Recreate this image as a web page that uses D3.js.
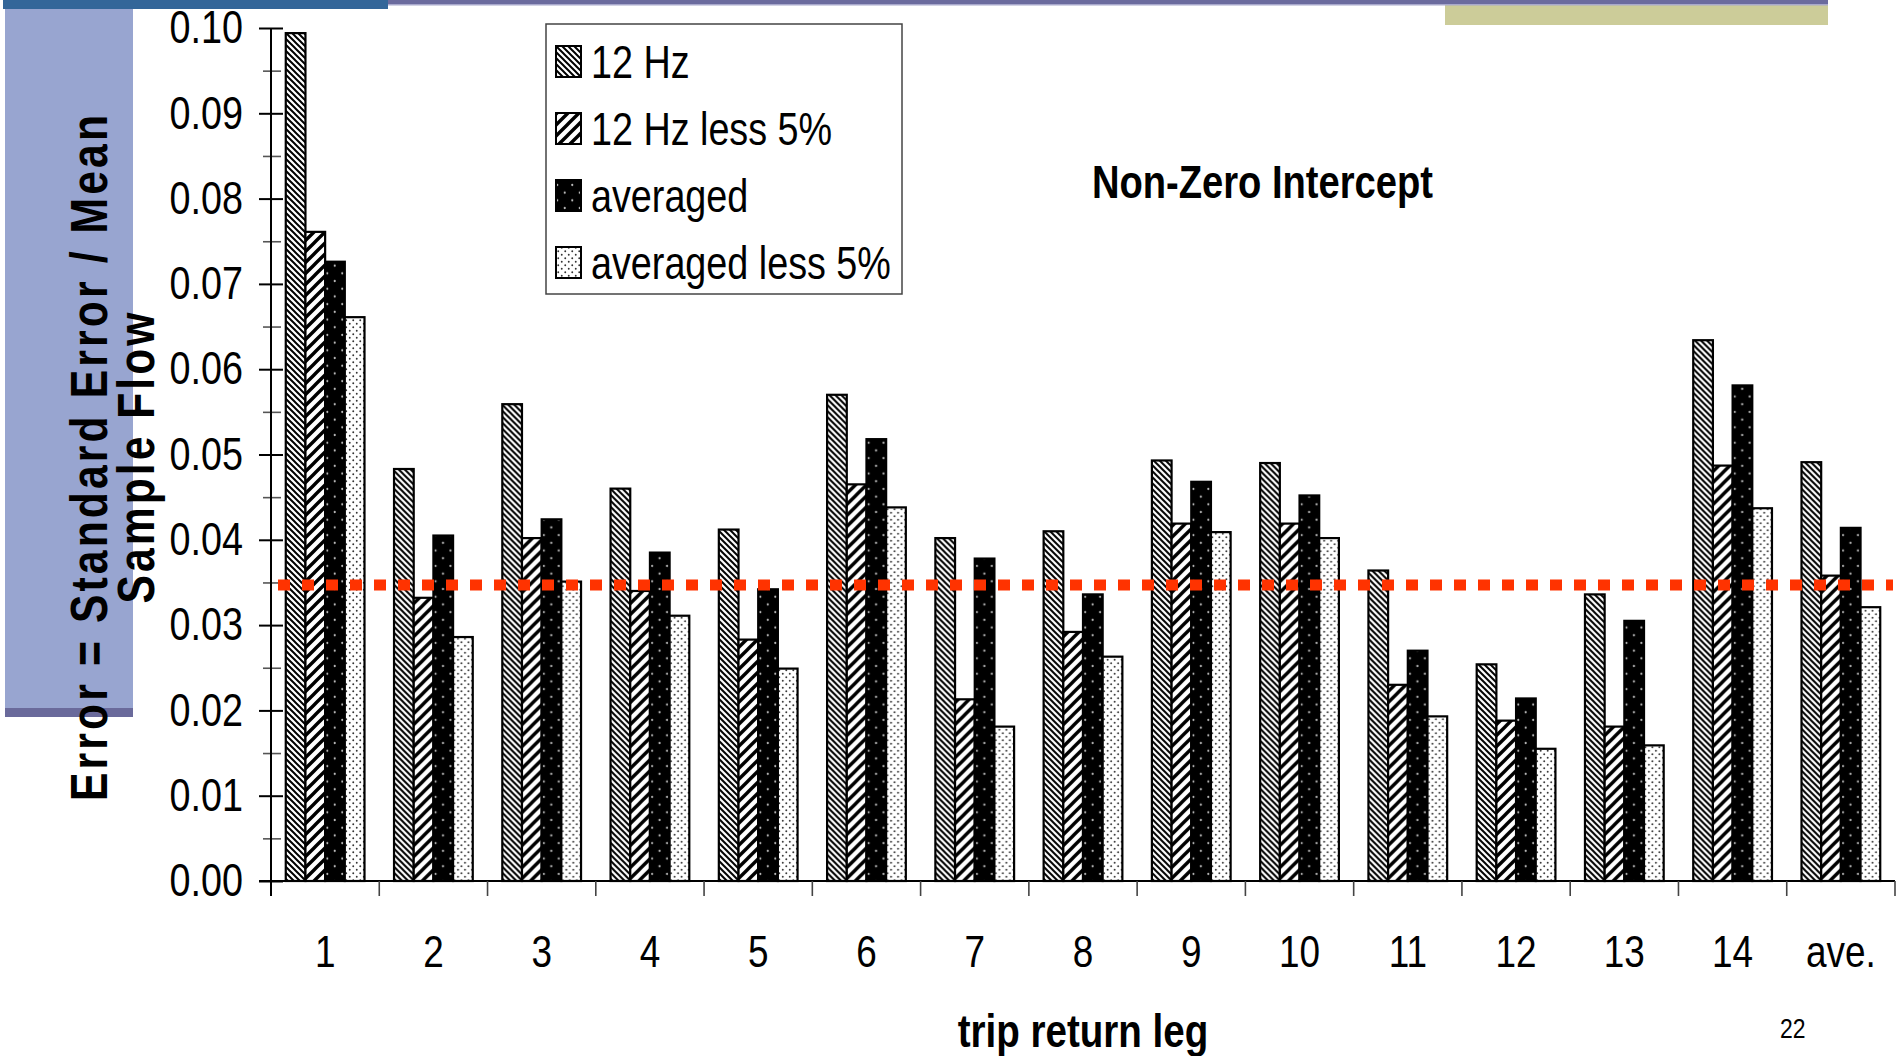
<!DOCTYPE html>
<html>
<head>
<meta charset="utf-8">
<script src="https://cdn.jsdelivr.net/npm/d3@7"></script>
<style>
  html, body { margin: 0; padding: 0; background: #fff; }
  svg { display: block; }
  text { font-family: 'Liberation Sans', Arial, Helvetica, sans-serif; fill: #000; }
</style>
</head>
<body>
<svg id="chart" width="1904" height="1056"></svg>
<script>
// Trip return legs and the four error series
const categories = ["1", "2", "3", "4", "5", "6", "7", "8", "9", "10", "11", "12", "13", "14", "ave."];
const seriesNames = ["12 Hz", "12 Hz less 5%", "averaged", "averaged less 5%"];
const hz12 =        [0.0994, 0.0483, 0.0559, 0.0460, 0.0412, 0.0570, 0.0402, 0.0410, 0.0493, 0.0490, 0.0364, 0.0254, 0.0336, 0.0634, 0.0491];
const hz12Less5 =   [0.0761, 0.0332, 0.0402, 0.0340, 0.0283, 0.0465, 0.0213, 0.0292, 0.0419, 0.0419, 0.0230, 0.0188, 0.0181, 0.0487, 0.0358];
const averaged =    [0.0726, 0.0405, 0.0424, 0.0385, 0.0342, 0.0518, 0.0378, 0.0336, 0.0468, 0.0452, 0.0270, 0.0214, 0.0305, 0.0581, 0.0414];
const averagedLess5=[0.0661, 0.0286, 0.0351, 0.0311, 0.0249, 0.0438, 0.0181, 0.0263, 0.0409, 0.0402, 0.0193, 0.0155, 0.0159, 0.0437, 0.0321];
const threshold = 0.0347;
const yTickValues = [0.00, 0.01, 0.02, 0.03, 0.04, 0.05, 0.06, 0.07, 0.08, 0.09, 0.10];
const yMinorValues = [0.005, 0.015, 0.025, 0.035, 0.045, 0.055, 0.065, 0.075, 0.085, 0.095];

const seriesValues = [hz12, hz12Less5, averaged, averagedLess5];

const svg = d3.select("#chart");

// Condense text horizontally to a narrow face
const NARROW = 0.82;
function narrow(sel) {
  sel.each(function () {
    const w = this.getComputedTextLength();
    d3.select(this).attr("textLength", w * NARROW).attr("lengthAdjust", "spacingAndGlyphs");
  });
}

// ---- slide chrome ----
svg.append("rect").attr("x", 1445).attr("y", 0).attr("width", 383).attr("height", 25).attr("fill", "#CCCC99");
svg.append("rect").attr("x", 388).attr("y", 4).attr("width", 1440).attr("height", 1.5).attr("fill", "#A8A8CC");
svg.append("rect").attr("x", 388).attr("y", 0).attr("width", 1440).attr("height", 4).attr("fill", "#6B6B9E");
svg.append("rect").attr("x", 3).attr("y", 0).attr("width", 385).attr("height", 9).attr("fill", "#336699");
svg.append("rect").attr("x", 5).attr("y", 9).attr("width", 128).attr("height", 699).attr("fill", "#98A5D0");
svg.append("rect").attr("x", 5).attr("y", 708).attr("width", 128).attr("height", 9).attr("fill", "#6A6A9B");

// ---- patterns ----
const defs = svg.append("defs");
const p0 = defs.append("pattern").attr("id", "pat0").attr("patternUnits", "userSpaceOnUse").attr("width", 6).attr("height", 6);
p0.append("rect").attr("width", 6).attr("height", 6).attr("fill", "#fff");
p0.append("path").attr("d", "M-1,-1L7,7M-1,5L1,7M5,-1L7,1").attr("stroke", "#000").attr("stroke-width", 2);

const p1 = defs.append("pattern").attr("id", "pat1").attr("patternUnits", "userSpaceOnUse").attr("width", 11).attr("height", 11);
p1.append("rect").attr("width", 11).attr("height", 11).attr("fill", "#fff");
p1.append("path").attr("d", "M-1,12L12,-1M-3,3L3,-3M8,14L14,8").attr("stroke", "#000").attr("stroke-width", 3.4);

const p2 = defs.append("pattern").attr("id", "pat2").attr("patternUnits", "userSpaceOnUse").attr("width", 15).attr("height", 15.4);
p2.append("rect").attr("width", 15).attr("height", 15.4).attr("fill", "#000");
p2.append("circle").attr("cx", 3.75).attr("cy", 3.85).attr("r", 1.1).attr("fill", "#bbb");
p2.append("circle").attr("cx", 11.25).attr("cy", 11.55).attr("r", 1.1).attr("fill", "#bbb");

const p3 = defs.append("pattern").attr("id", "pat3").attr("patternUnits", "userSpaceOnUse").attr("width", 7).attr("height", 7);
p3.append("rect").attr("width", 7).attr("height", 7).attr("fill", "#fff");
p3.append("circle").attr("cx", 1.75).attr("cy", 1.75).attr("r", 0.95).attr("fill", "#333");
p3.append("circle").attr("cx", 5.25).attr("cy", 5.25).attr("r", 0.95).attr("fill", "#333");

const fills = ["url(#pat0)", "url(#pat1)", "url(#pat2)", "url(#pat3)"];

// ---- scales ----
const plotLeft = 271, plotRight = 1895, plotTop = 28, plotBottom = 881;
const x = d3.scaleBand().domain(categories).range([plotLeft, plotRight]).padding(0);
const groupGap = x.step() * 1.5 / 5.5 / 2;
const xs = d3.scaleBand().domain(d3.range(seriesNames.length)).range([groupGap, x.step() - groupGap]).padding(0);
const y = d3.scaleLinear().domain([0, 0.10]).range([plotBottom, plotTop]);

// ---- bars ----
const groups = svg.append("g").selectAll("g").data(categories).join("g")
  .attr("transform", d => `translate(${x(d)},0)`);
groups.selectAll("rect")
  .data((c, ci) => seriesValues.map((vals, si) => ({ si, v: vals[ci] })))
  .join("rect")
  .attr("x", d => xs(d.si))
  .attr("width", xs.bandwidth())
  .attr("y", d => y(d.v))
  .attr("height", d => y(0) - y(d.v))
  .attr("fill", d => fills[d.si])
  .attr("stroke", "#000")
  .attr("stroke-width", 2.2);

// ---- y axis ----
const yMajor = svg.append("g").attr("transform", `translate(${plotLeft + 12},0)`)
  .call(d3.axisLeft(y).tickValues(yTickValues).tickSize(24).tickPadding(16).tickFormat(d3.format(".2f")));
yMajor.attr("font-family", null).select(".domain").remove();
yMajor.selectAll("line").attr("stroke", "#000").attr("stroke-width", 2);
yMajor.selectAll("text").attr("font-size", 46).attr("fill", "#000").call(narrow);

const yMinor = svg.append("g").attr("transform", `translate(${plotLeft + 10},0)`)
  .call(d3.axisLeft(y).tickValues(yMinorValues).tickSize(18).tickFormat(""));
yMinor.select(".domain").remove();
yMinor.selectAll("line").attr("stroke", "#555").attr("stroke-width", 1.6);

svg.append("line").attr("x1", plotLeft).attr("x2", plotLeft).attr("y1", plotTop).attr("y2", plotBottom + 15)
  .attr("stroke", "#000").attr("stroke-width", 2);

// ---- x axis ----
svg.append("line").attr("x1", plotLeft - 12).attr("x2", plotRight).attr("y1", plotBottom).attr("y2", plotBottom)
  .attr("stroke", "#000").attr("stroke-width", 2);
svg.append("g").selectAll("line").data(d3.range(1, categories.length + 1)).join("line")
  .attr("x1", i => plotLeft + i * x.step()).attr("x2", i => plotLeft + i * x.step())
  .attr("y1", plotBottom).attr("y2", plotBottom + 15)
  .attr("stroke", "#444").attr("stroke-width", 1.6);

const xAxis = svg.append("g").attr("transform", `translate(0,${plotBottom})`)
  .call(d3.axisBottom(x).tickSize(0).tickPadding(54));
xAxis.attr("font-family", null).select(".domain").remove();
xAxis.selectAll("text").attr("font-size", 45).attr("fill", "#000").call(narrow);

// ---- threshold line ----
svg.append("line")
  .attr("x1", plotLeft + 7).attr("x2", plotRight - 2)
  .attr("y1", y(threshold)).attr("y2", y(threshold))
  .attr("stroke", "#FF3300").attr("stroke-width", 11).attr("stroke-dasharray", "12,12");

// ---- legend ----
const legend = svg.append("g").attr("transform", "translate(546,24)");
legend.append("rect").attr("width", 356).attr("height", 270).attr("fill", "#fff").attr("stroke", "#444").attr("stroke-width", 1.5);
const rows = legend.selectAll("g.row").data(seriesNames).join("g").attr("class", "row")
  .attr("transform", (d, i) => `translate(0,${i * 67})`);
rows.append("rect").attr("x", 10).attr("y", 22).attr("width", 25).attr("height", 31)
  .attr("fill", (d, i) => fills[i]).attr("stroke", "#000").attr("stroke-width", 2);
rows.append("text").attr("x", 45).attr("y", 54).attr("font-size", 46).text(d => d).call(narrow);

// ---- titles ----
svg.append("text").attr("x", 1092).attr("y", 198).attr("font-size", 47).attr("font-weight", "bold")
  .attr("textLength", 341).attr("lengthAdjust", "spacingAndGlyphs").text("Non-Zero Intercept");

svg.append("text").attr("x", (plotLeft + plotRight) / 2).attr("y", 1047).attr("text-anchor", "middle")
  .attr("font-size", 47).attr("font-weight", "bold").text("trip return leg").call(narrow);

svg.append("text").attr("x", 1780).attr("y", 1038).attr("font-size", 28).text("22").call(narrow);

// Rotated axis title: condensed glyphs with open tracking
const yTitle = [
  { text: "Error = Standard Error / Mean", x: 107, len: 686 },
  { text: "Sample Flow", x: 154, len: 291 }
];
svg.append("g").selectAll("text").data(yTitle).join("text")
  .attr("transform", d => `translate(${d.x},458) rotate(-90) scale(${NARROW},1)`)
  .attr("text-anchor", "middle")
  .attr("font-size", 52).attr("font-weight", "bold")
  .attr("textLength", d => d.len / NARROW).attr("lengthAdjust", "spacing")
  .text(d => d.text);
</script>
</body>
</html>
